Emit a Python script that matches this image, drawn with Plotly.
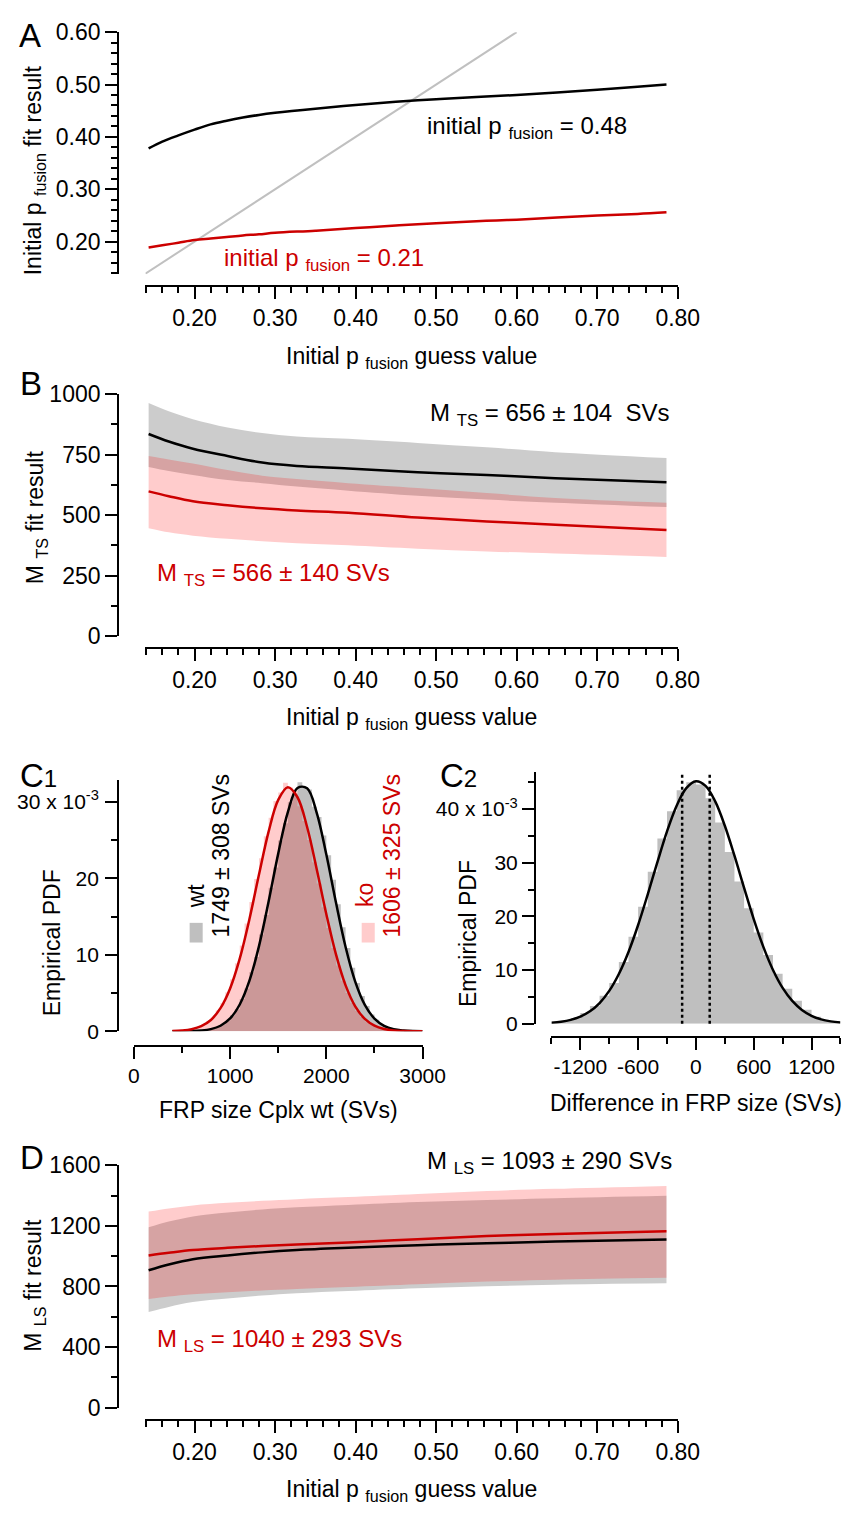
import plotly.graph_objects as go

W, H = 867, 1519
FONT = "Liberation Sans, Arial, Helvetica, sans-serif"
RED = "#cc0000"
GRAY_BAND = "rgba(0,0,0,0.2)"
PINK_BAND = "rgba(255,0,0,0.2)"
GRAY_HIST = "rgba(0,0,0,0.25)"
PINK_HIST = "rgba(255,0,0,0.2)"

# ---------------- Panel A ----------------
A_x = [0.143, 0.16, 0.18, 0.20, 0.22, 0.24, 0.26, 0.28, 0.30, 0.35, 0.40,
       0.45, 0.50, 0.55, 0.60, 0.65, 0.70, 0.75, 0.786]
A_wt = [0.378, 0.391, 0.403, 0.414, 0.424, 0.431, 0.437, 0.442, 0.446, 0.454,
        0.461, 0.467, 0.472, 0.476, 0.480, 0.485, 0.490, 0.496, 0.500]
A_ko = [0.189, 0.193, 0.198, 0.203, 0.206, 0.209, 0.212, 0.214, 0.217, 0.221,
        0.226, 0.231, 0.235, 0.239, 0.242, 0.246, 0.250, 0.253, 0.256]
A_identity = [0.139, 0.60]

# ---------------- Panel B ----------------
B_x = [0.143, 0.168, 0.198, 0.241, 0.284, 0.327, 0.391, 0.477, 0.563, 0.648, 0.786]
B_wt = [835, 804, 774, 744, 717, 703, 693, 677, 666, 652, 636]
B_wt_hi = [963, 929, 896, 862, 839, 825, 815, 798, 780, 760, 736]
B_wt_lo = [699, 682, 666, 645, 632, 618, 601, 580, 564, 551, 533]
B_ko = [598, 578, 557, 541, 528, 519, 510, 490, 474, 460, 438]
B_ko_hi = [744, 730, 713, 686, 663, 649, 632, 612, 591, 571, 551]
B_ko_lo = [446, 429, 415, 402, 392, 384, 375, 361, 350, 341, 327]

# ---------------- Panel C1 (PDF values in units of 1e-3) ----------------
C1_bins = list(range(425, 3000, 50))
C1_bin_width = 50
C1_wt_hist = [0.00, 0.01, 0.02, 0.03, 0.05, 0.08, 0.12, 0.22, 0.37, 0.55,
              0.92, 1.33, 2.08, 2.88, 4.21, 5.60, 7.70, 9.71, 12.65, 15.20,
              18.75, 21.40, 24.95, 27.20, 29.95, 31.05, 32.55, 31.85, 31.60, 29.35,
              28.00, 25.60, 23.00, 19.80, 16.60, 13.60, 10.90, 8.30, 6.30, 4.60,
              3.30, 2.20, 1.50, 0.95, 0.60, 0.36, 0.22, 0.13, 0.07, 0.04,
              0.02, 0.01]
C1_ko_hist = [0.04, 0.07, 0.12, 0.21, 0.33, 0.55, 0.85, 1.30, 1.85, 2.70,
              3.70, 5.10, 6.80, 8.90, 11.20, 14.10, 16.90, 19.90, 22.60, 25.50,
              27.90, 30.10, 31.20, 32.50, 31.90, 31.40, 29.40, 27.50, 25.00, 22.10,
              19.30, 16.20, 13.50, 10.90, 8.60, 6.60, 5.00, 3.70, 2.65, 1.85,
              1.28, 0.86, 0.56, 0.36, 0.22, 0.14, 0.08, 0.05, 0.03, 0.02,
              0.01, 0.00]
C1_curve_x = list(range(400, 3001, 100))
C1_wt_curve = [0.00, 0.01, 0.03, 0.10, 0.28, 0.72, 1.67, 3.50, 6.58, 11.13,
               16.95, 23.22, 28.65, 31.79, 31.76, 28.56, 23.10, 16.82, 11.02, 6.50,
               3.45, 1.65, 0.71, 0.27, 0.10, 0.03, 0.01]
C1_ko_curve = [0.03, 0.10, 0.27, 0.66, 1.47, 3.02, 5.60, 9.49, 14.62, 20.48,
               26.09, 30.24, 31.89, 30.59, 26.70, 21.19, 15.30, 10.05, 6.00, 3.26,
               1.61, 0.73, 0.30, 0.11, 0.04, 0.01, 0.00]

# ---------------- Panel C2 ----------------
C2_bins = list(range(-1450, 1500, 100))
C2_bin_width = 100
C2_hist = [0.2, 0.5, 1.0, 2.0, 3.3, 5.2, 7.6, 11.5, 16.2, 21.8,
           28.3, 34.5, 39.6, 43.5, 45.0, 44.6, 42.0, 37.5, 32.0, 26.5,
           21.5, 17.0, 12.8, 9.3, 6.5, 4.3, 2.6, 1.3, 0.6, 0.3]
C2_curve_x = list(range(-1500, 1501, 100))
C2_curve = [0.18, 0.37, 0.72, 1.32, 2.31, 3.85, 6.12, 9.27, 13.37, 18.40,
            24.12, 30.12, 35.84, 40.63, 43.90, 45.19, 44.32, 41.43, 36.89, 31.31,
            25.31, 19.50, 14.32, 10.02, 6.67, 4.24, 2.56, 1.48, 0.81, 0.43, 0.21]
C2_ci = [-143, 143]

# ---------------- Panel D ----------------
D_x = [0.143, 0.168, 0.198, 0.241, 0.284, 0.327, 0.391, 0.477, 0.563, 0.648, 0.786]
D_wt = [907, 945, 980, 1005, 1025, 1040, 1055, 1072, 1085, 1096, 1110]
D_wt_hi = [1190, 1228, 1262, 1288, 1308, 1322, 1338, 1357, 1370, 1382, 1398]
D_wt_lo = [631, 665, 697, 720, 740, 755, 770, 788, 801, 812, 821]
D_ko = [1005, 1022, 1040, 1055, 1067, 1077, 1090, 1112, 1133, 1147, 1165]
D_ko_hi = [1294, 1315, 1335, 1352, 1365, 1376, 1390, 1410, 1430, 1444, 1463]
D_ko_lo = [717, 733, 748, 762, 774, 784, 797, 815, 832, 845, 857]

P_ticks = [0.2, 0.3, 0.4, 0.5, 0.6, 0.7, 0.8]
P_ticktext = ["0.20", "0.30", "0.40", "0.50", "0.60", "0.70", "0.80"]


def fx(px):
    return px / W


def fy(py):
    return 1 - py / H


fig = go.Figure()


def line(x, y, color, width, ax, shape="spline", dash=None):
    fig.add_trace(go.Scatter(x=x, y=y, mode="lines",
                             line=dict(color=color, width=width, shape=shape, dash=dash),
                             hoverinfo="skip", showlegend=False,
                             xaxis="x" + ax, yaxis="y" + ax))


def band(x, lo, hi, color, ax):
    fig.add_trace(go.Scatter(x=x, y=lo, mode="lines", line=dict(width=0, shape="spline"),
                             hoverinfo="skip", showlegend=False, xaxis="x" + ax, yaxis="y" + ax))
    fig.add_trace(go.Scatter(x=x, y=hi, mode="lines", line=dict(width=0, shape="spline"),
                             fill="tonexty", fillcolor=color,
                             hoverinfo="skip", showlegend=False, xaxis="x" + ax, yaxis="y" + ax))


def hist(centers, bw, values, color, ax):
    # seamless histogram drawn as a filled step outline (bin edges from the centres)
    edges = [c - bw / 2 for c in centers] + [centers[-1] + bw / 2]
    vals = list(values) + [values[-1]]
    fig.add_trace(go.Scatter(x=edges, y=vals, mode="lines", line=dict(width=0, shape="hv"),
                             fill="tozeroy", fillcolor=color,
                             hoverinfo="skip", showlegend=False, xaxis="x" + ax, yaxis="y" + ax))


# Panel A (axes 1)
line(A_identity, A_identity, "#c0c0c0", 2, "", shape="linear")
line(A_x, A_wt, "black", 2.5, "")
line(A_x, A_ko, RED, 2.5, "")

# Panel B (axes 2)
band(B_x, B_wt_lo, B_wt_hi, GRAY_BAND, "2")
band(B_x, B_ko_lo, B_ko_hi, PINK_BAND, "2")
line(B_x, B_wt, "black", 2.5, "2")
line(B_x, B_ko, RED, 2.5, "2")

# Panel C1 (axes 3)
hist(C1_bins, C1_bin_width, C1_wt_hist, GRAY_HIST, "3")
hist(C1_bins, C1_bin_width, C1_ko_hist, PINK_HIST, "3")
line(C1_curve_x, C1_wt_curve, "black", 2.5, "3")
line(C1_curve_x, C1_ko_curve, RED, 2.5, "3")

# Panel C2 (axes 4)
hist(C2_bins, C2_bin_width, C2_hist, "#bfbfbf", "4")
line(C2_curve_x, C2_curve, "black", 2.5, "4")
for v in C2_ci:
    fig.add_shape(type="line", xref="x4", yref="y4 domain", x0=v, x1=v, y0=0, y1=1,
                  line=dict(color="black", width=2.5, dash="dot"))

# Panel D (axes 5)
band(D_x, D_wt_lo, D_wt_hi, GRAY_BAND, "5")
band(D_x, D_ko_lo, D_ko_hi, PINK_BAND, "5")
line(D_x, D_wt, "black", 2.5, "5")
line(D_x, D_ko, RED, 2.5, "5")


def axis_common(fs):
    return dict(showline=True, linecolor="black", linewidth=2, ticks="outside", ticklen=12,
                tickwidth=2, tickcolor="black", showgrid=False, zeroline=False,
                tickfont=dict(family=FONT, size=fs, color="black"), fixedrange=True,
                tickmode="array")


def make_axes(n, xdom, xrange, xline, xt, xtt, xminor, ydom, yrange, yline, yt, ytt, yminor, fs,
              xstand, ystand):
    sx = "" if n == 1 else str(n)
    xa = axis_common(fs)
    xa.update(domain=[fx(xdom[0]), fx(xdom[1])], range=xrange, anchor="free",
              position=fy(xline), tickvals=xt, ticktext=xtt, ticklabelstandoff=xstand,
              minor=dict(ticks="outside", ticklen=6, tickwidth=2, tickcolor="black",
                         tick0=0, dtick=xminor, showgrid=False))
    ya = axis_common(fs)
    ya.update(domain=[fy(ydom[1]), fy(ydom[0])], range=yrange, anchor="free",
              position=fx(yline), tickvals=yt, ticktext=ytt, ticklabelstandoff=ystand,
              minor=dict(ticks="outside", ticklen=6, tickwidth=2, tickcolor="black",
                         tick0=0, dtick=yminor, showgrid=False))
    fig.layout["xaxis" + sx] = xa
    fig.layout["yaxis" + sx] = ya


XS, YS = -1, 0
make_axes(1, (144.3, 695), [0.1391, 0.8], 278, P_ticks, P_ticktext, 0.02,
          (19.5, 265.7), [0.138, 0.6], 116,
          [0.2, 0.3, 0.4, 0.5, 0.6], ["0.20", "0.30", "0.40", "0.50", "0.60"], 0.02, 23, XS, YS)
make_axes(2, (144.3, 695), [0.1391, 0.8], 646, P_ticks, P_ticktext, 0.02,
          (387.7, 634), [0, 1000], 116,
          [0, 250, 500, 750, 1000], ["0", "250", "500", "750", "1000"], 125, 23, XS, YS)
make_axes(3, (132.3, 431), [0, 3000], 1050.7, [0, 1000, 2000, 3000], ["0", "1000", "2000", "3000"], 500,
          (780.7, 1036), [0, 32.8], 116,
          [0, 10, 20, 30], ["0", "10", "20", "30 x 10<sup>-3</sup>"], 5, 21, XS, YS + 2)
make_axes(4, (564.3, 863.3), [-1500, 1500], 1041.7, [-1200, -600, 0, 600, 1200],
          ["-1200", "-600", "0", "600", "1200"], 300,
          (772.3, 1028.3), [0, 46.9], 547.3,
          [0, 10, 20, 30, 40], ["0", "10", "20", "30", "40 x 10<sup>-3</sup>"], 5, 21, XS, YS)
make_axes(5, (144.3, 695), [0.1391, 0.8], 1431.7, P_ticks, P_ticktext, 0.02,
          (1172.3, 1419), [0, 1600], 116,
          [0, 400, 800, 1200, 1600], ["0", "400", "800", "1200", "1600"], 200, 23, XS, YS)

anns = []


def ann(text, px, py, size=24, color="black", xanchor="left", yanchor="middle", angle=0):
    anns.append(dict(text=text, x=fx(px), y=fy(py), xref="paper", yref="paper",
                     xanchor=xanchor, yanchor=yanchor, showarrow=False, textangle=angle,
                     font=dict(family=FONT, size=size, color=color)))


# panel letters
ann("A", 11, 23, size=33)
ann("B", 12, 377, size=33)
ann("C<span style='font-size:24px'>1</span>", 12, 776, size=33)
ann("C<span style='font-size:24px'>2</span>", 447, 776, size=33)
ann("D", 12, 1164, size=33)

# axis titles
XT = "Initial p <sub>fusion</sub> guess value"
ann(XT, 419.7, 350, size=23, xanchor="center")
ann(XT, 419.7, 718, size=23, xanchor="center")
ann(XT, 419.7, 1503, size=23, xanchor="center")
ann("FRP size Cplx wt (SVs)", 281.7, 1116, size=23, xanchor="center")
ann("Difference in FRP size (SVs)", 713.8, 1109, size=23, xanchor="center")
ann("Initial p <sub>fusion</sub> fit result", 29, 160, size=23, xanchor="center", angle=-90)
ann("M <sub>TS</sub> fit result", 31, 513, size=23, xanchor="center", angle=-90)
ann("Empirical PDF", 47, 946, size=23, xanchor="center", angle=-90)
ann("Empirical PDF", 478, 937, size=23, xanchor="center", angle=-90)
ann("M <sub>LS</sub> fit result", 30, 1294, size=23, xanchor="center", angle=-90)

# in-plot labels
ann("initial p <sub>fusion</sub> = 0.48", 433, 116)
ann("initial p <sub>fusion</sub> = 0.21", 223, 251, color=RED)
ann("M <sub>TS</sub> = 656 ± 104\u00a0 SVs", 437, 409)
ann("M <sub>TS</sub> = 566 ± 140 SVs", 154, 571, color=RED)
ann("M <sub>LS</sub> = 1093 ± 290 SVs", 434, 1170)
ann("M <sub>LS</sub> = 1040 ± 293 SVs", 154, 1351, color=RED)

# C1 legend (rotated)
ann("wt", 196, 913, size=23, xanchor="center", yanchor="bottom", angle=-90)
ann("1749 ± 308 SVs", 222, 943, size=23, xanchor="center", yanchor="bottom", angle=-90)
ann("ko", 372, 912, size=23, color=RED, xanchor="center", yanchor="bottom", angle=-90)
ann("1606 ± 325 SVs", 399, 943, size=23, color=RED, xanchor="center", yanchor="bottom", angle=-90)

fig.add_shape(type="rect", xref="paper", yref="paper", x0=fx(190), x1=fx(203.5),
              y0=fy(945.7), y1=fy(925.7), fillcolor="#bfbfbf", line=dict(width=0))
fig.add_shape(type="rect", xref="paper", yref="paper", x0=fx(368), x1=fx(381.5),
              y0=fy(945.7), y1=fy(925.7), fillcolor="#ffcccc", line=dict(width=0))

fig.update_layout(width=W, height=H, margin=dict(l=0, r=0, t=0, b=0),
                  paper_bgcolor="white", plot_bgcolor="white", showlegend=False,
                  font=dict(family=FONT, color="black", size=23),
                  annotations=anns)

fig.write_html("out.html", config={"displayModeBar": False},
               post_script="document.body.style.margin='0';document.body.style.padding='0';"
                           "document.documentElement.style.overflow='hidden';")
